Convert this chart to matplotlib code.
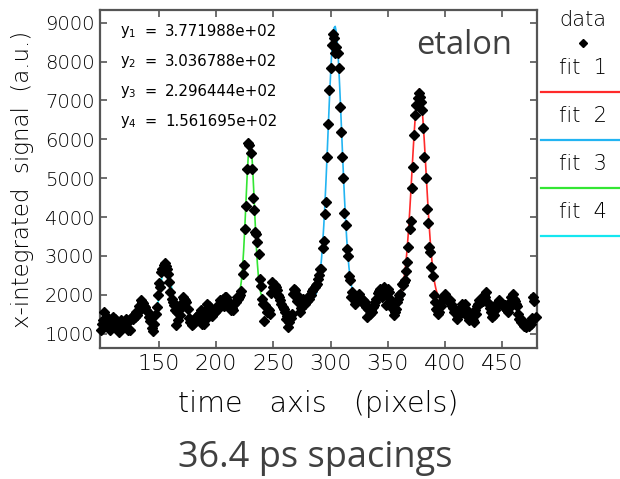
import numpy as np
import matplotlib
matplotlib.use("Agg")
import matplotlib.pyplot as plt
from matplotlib.lines import Line2D

# x-integrated etalon signal, one value per pixel starting at pixel 99
signal = [
    1100, 1250, 1340, 1556, 1300, 1200, 1428, 1150, 1085, 1350,
    1300, 1420, 1250, 1386, 1150, 1214, 1042, 1300, 1350, 1257,
    1200, 1320, 1386, 1280, 1100, 1343, 1085, 1400, 1386, 1471,
    1420, 1550, 1480, 1556, 1700, 1858, 1800, 1790, 1720, 1686,
    1600, 1556, 1420, 1320, 1386, 1150, 1067, 1257, 1515, 1686,
    1987, 2303, 2200, 2587, 2650, 2760, 2818, 2750, 2674, 2545,
    2329, 2071, 1900, 1815, 1730, 1618, 1214, 1556, 1343, 1471,
    1773, 1686, 1943, 1900, 1858, 1815, 1644, 1400, 1300, 1343,
    1214, 1250, 1300, 1420, 1380, 1471, 1515, 1350, 1600, 1257,
    1257, 1350, 1500, 1773, 1650, 1700, 1556, 1450, 1515, 1600,
    1550, 1644, 1700, 1644, 1858, 1750, 1800, 1900, 1700, 1943,
    1943, 1850, 1815, 1700, 1600, 1650, 1600, 1750, 1800, 1943,
    1900, 1943, 2000, 2100, 2527, 2777, 3679, 4279, 5225, 5910,
    5850, 5650, 5225, 4477, 4176, 3617, 3558, 3360, 3043, 2416,
    2226, 1900, 1773, 1325, 1730, 1556, 1643, 1600, 1500, 2050,
    2329, 2200, 2244, 2200, 2115, 2000, 1943, 1858, 1750, 1686,
    1644, 1556, 1386, 1450, 1170, 1300, 1400, 1515, 2030, 2159,
    2115, 2000, 1850, 1943, 1556, 1650, 1730, 1900, 1815, 1750,
    1850, 1943, 1900, 2000, 1987, 2100, 2159, 2200, 2250, 2288,
    2417, 2500, 2656, 2674, 3205, 3385, 4065, 4374, 5549, 6383,
    7267, 7826, 8426, 8709, 8598, 8212, 8382, 8212, 7826, 6837,
    6200, 5549, 4992, 4106, 3807, 3164, 2991, 2476, 2373, 1943,
    2071, 1900, 1773, 1850, 1943, 1900, 2030, 1950, 1800, 1858,
    1750, 1815, 1686, 1428, 1644, 1500, 1600, 1556, 1686, 1730,
    1800, 1900, 2050, 2100, 2159, 2050, 1950, 1987, 2200, 1730,
    2100, 2159, 2071, 1900, 1686, 1730, 1471, 1556, 1644, 1800,
    1900, 1987, 2030, 2288, 2244, 2329, 2373, 2600, 2845, 3231,
    3704, 3900, 4735, 5276, 6108, 6623, 6880, 7050, 7182, 7095,
    6950, 6752, 6296, 5534, 5008, 4202, 3833, 3231, 3102, 2716,
    2484, 1987, 1815, 1644, 1600, 1515, 1556, 1700, 1850, 1943,
    1900, 2030, 1943, 1900, 1815, 1858, 1773, 1700, 1650, 1556,
    1600, 1386, 1450, 1500, 1600, 1650, 1773, 1686, 1773, 1471,
    1600, 1500, 1343, 1428, 1450, 1350, 1300, 1600, 1500, 1700,
    1773, 1858, 1800, 1900, 1850, 1987, 1943, 2071, 1815, 1750,
    1650, 1556, 1428, 1500, 1471, 1600, 1700, 1815, 1858, 1800,
    1750, 1773, 1700, 1730, 1644, 1600, 1556, 1650, 1800, 1950,
    2030, 1900, 1850, 1773, 1700, 1500, 1386, 1300, 1350, 1257,
    1200, 1230, 1170, 1250, 1200, 1300, 1250, 1400, 1943, 1850, 1428,
]
first_pixel = 99
pixels = np.arange(first_pixel, first_pixel + len(signal))

# Gaussian fit results (fit 1 .. fit 4)
fit_labels = ["fit 1", "fit 2", "fit 3", "fit 4"]
fit_centers = [377.1988, 303.6788, 229.6444, 156.1695]
fit_amplitudes = [5455, 7065, 4065, 1490]
fit_sigmas = [6.2, 6.0, 3.7, 4.3]
fit_baselines = [1830, 1850, 1870, 1400]
fit_starts = [349, 285, 220, 139]
fit_ends = [396, 320, 240, 170]
fit_colors = ["#ff2a2a", "#22b4f2", "#33e633", "#14e6f0"]

W, H, DPI = 620, 479, 100
fig = plt.figure(figsize=(W / DPI, H / DPI), dpi=DPI)
ax = fig.add_axes([100 / W, 1 - 348 / H, 437 / W, 338 / H])

ink = "black"
frame = "#555555"
light = dict(family="DejaVu Sans", weight="light", color=ink)

ax.plot(pixels, signal, linestyle="none", marker="D", markersize=5.5,
        color="black", zorder=3, clip_on=False)

for c, a, s, b, lo, hi, col in zip(fit_centers, fit_amplitudes, fit_sigmas,
                                   fit_baselines, fit_starts, fit_ends,
                                   fit_colors):
    xf = np.arange(lo, hi + 1)
    yf = b + a * np.exp(-0.5 * ((xf - c) / s) ** 2)
    ax.plot(xf, yf, color=col, lw=1.2, zorder=2)

ax.set_xlim(98.5, 480.3)
ax.set_ylim(629, 9327)
ax.set_xticks([150, 200, 250, 300, 350, 400, 450])
ax.set_yticks([1000, 2000, 3000, 4000, 5000, 6000, 7000, 8000, 9000])
ax.tick_params(direction="in", length=5, width=1.2, color=frame,
               top=True, right=True, pad=4)
for lab in ax.get_xticklabels():
    lab.set_fontproperties(dict(family="DejaVu Sans", weight="light", size=16))
    lab.set_color(ink)
for lab in ax.get_yticklabels():
    lab.set_fontproperties(dict(family="DejaVu Sans", weight="light", size=14))
    lab.set_color(ink)
for sp in ax.spines.values():
    sp.set_color(frame)
    sp.set_linewidth(1.6)

ax.set_xlabel("time   axis   (pixels)", fontsize=20.5, labelpad=12, **light)
ax.set_ylabel("x-integrated  signal  (a.u.)", fontsize=16.5, labelpad=8,
              **light)

# fitted peak positions
names = ["y_1", "y_2", "y_3", "y_4"]
for i, (nm, c) in enumerate(zip(names, fit_centers)):
    yy = 1 - (31.7 + 30 * i) / H
    fig.text(120 / W, yy, r"$\mathregular{%s}$" % nm, fontsize=10.5,
             va="center", ha="left", family="DejaVu Sans", color=ink)
    fig.text(145 / W, yy, "=", fontsize=10.5, va="center", ha="left",
             family="DejaVu Sans", color=ink)
    fig.text(165 / W, yy, "%.6e" % c, fontsize=10.8, va="center", ha="left",
             family="DejaVu Sans", color=ink)

fig.text(464 / W, 1 - 45 / H, "etalon", fontsize=23.5, family="Open Sans",
         color="#404040", ha="center", va="center")

# key on the right
kx = 583 / W
fig.text(kx, 1 - 20 / H, "data", fontsize=15, ha="center", va="center", **light)
fig.lines.append(Line2D([kx], [1 - 43 / H], marker="D", markersize=4.5,
                        color="black", transform=fig.transFigure))
for i, (lab, col) in enumerate(zip(fit_labels, fit_colors)):
    ty = 1 - (68 + 48 * i) / H
    ly = 1 - (91.7 + 48.1 * i) / H
    fig.text(kx, ty, lab.replace(" ", "  "), fontsize=15, ha="center",
             va="center", **light)
    fig.lines.append(Line2D([541 / W, 1.0], [ly, ly], color=col, lw=1.6,
                            transform=fig.transFigure))

fig.text(315 / W, 1 - 458 / H, "36.4 ps spacings", fontsize=26,
         family="Open Sans", color="#404040", ha="center", va="center")

fig.savefig("out.png", dpi=DPI)
